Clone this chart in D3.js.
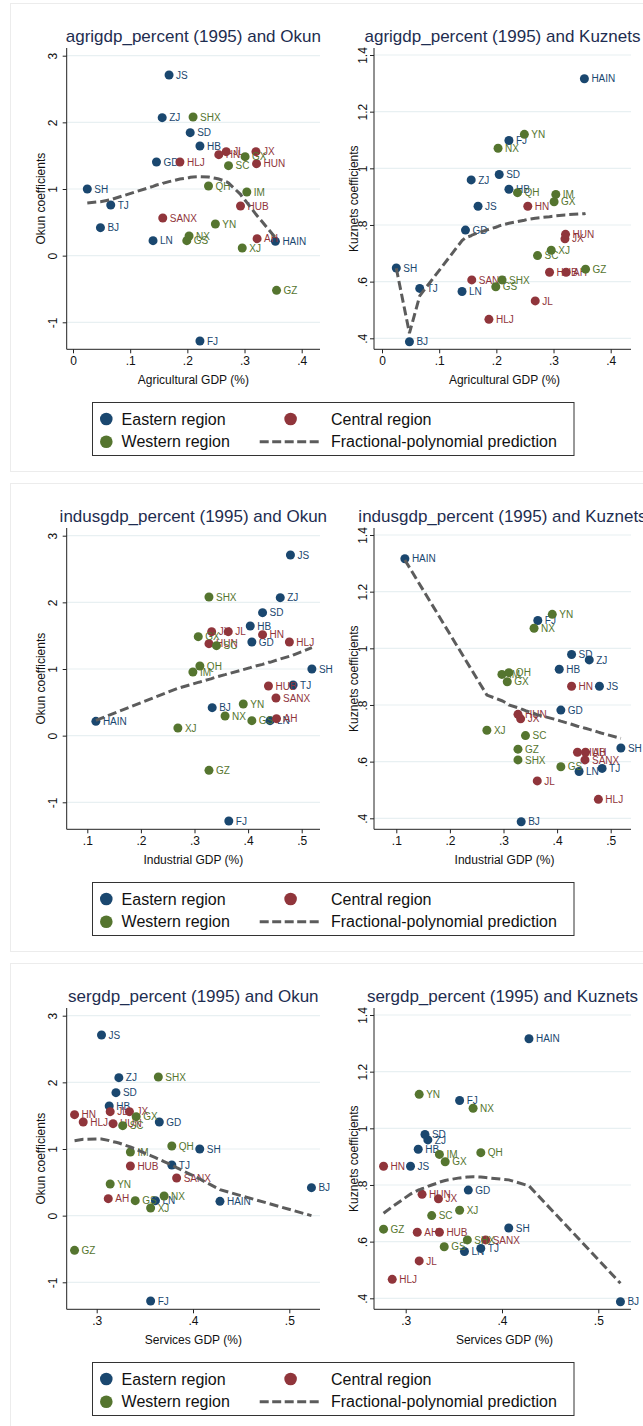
<!DOCTYPE html>
<html>
<head>
<meta charset="utf-8">
<script src="https://cdn.jsdelivr.net/npm/d3@7"></script>
<style>
body { margin: 0; background: #fff; }
svg { display: block; font-family: "Liberation Sans", Arial, sans-serif; }
</style>
</head>
<body>
<div id="chart"></div>
<script>
// provinces, 1995
var provinces = ["BJ","TJ","HB","LN","SH","JS","ZJ","FJ","SD","GD","HAIN",
                 "SANX","JL","HLJ","AH","JX","HN","HUB","HUN",
                 "IM","GX","SC","GZ","YN","SHX","GS","QH","NX","XJ"];
var regions = [0,0,0,0,0,0,0,0,0,0,0, 1,1,1,1,1,1,1,1, 2,2,2,2,2,2,2,2,2,2];

var agriShare  = [0.048,0.066,0.222,0.140,0.025,0.168,0.156,0.222,0.205,0.146,0.354,
                  0.157,0.268,0.187,0.322,0.320,0.255,0.293,0.321,
                  0.304,0.301,0.272,0.356,0.249,0.210,0.199,0.237,0.203,0.296];
var indusShare = [0.333,0.484,0.404,0.441,0.519,0.479,0.460,0.364,0.427,0.407,0.116,
                  0.452,0.363,0.477,0.453,0.332,0.427,0.438,0.327,
                  0.297,0.307,0.341,0.327,0.391,0.327,0.407,0.310,0.357,0.269];
var servShare  = [0.523,0.378,0.313,0.361,0.407,0.305,0.323,0.356,0.320,0.365,0.428,
                  0.383,0.314,0.286,0.312,0.334,0.277,0.335,0.317,
                  0.335,0.341,0.327,0.277,0.314,0.364,0.340,0.378,0.370,0.356];
var okunCoef   = [0.42,0.76,1.645,0.225,1.00,2.71,2.07,-1.28,1.845,1.405,0.215,
                  0.565,1.56,1.405,0.255,1.56,1.515,0.745,1.38,
                  0.955,1.485,1.35,-0.52,0.475,2.08,0.225,1.045,0.295,0.115];
var kuzCoef    = [0.388,0.576,0.926,0.565,0.648,0.866,0.959,1.098,0.978,0.782,1.316,
                  0.606,0.532,0.467,0.633,0.751,0.866,0.633,0.767,
                  0.908,0.882,0.692,0.644,1.12,0.606,0.582,0.914,1.071,0.711];

// fractional-polynomial predictions at each province
var fpAgriOkun  = [0.81,0.84,1.185,1.04,0.79,1.11,1.08,1.185,1.175,1.06,0.27,
                   1.085,1.11,1.15,0.60,0.62,1.15,0.92,0.61,
                   0.80,0.83,1.09,0.24,1.16,1.18,1.165,1.18,1.17,0.88];
var fpAgriKuz   = [0.418,0.55,0.806,0.745,0.647,0.772,0.762,0.806,0.797,0.755,0.84,
                   0.764,0.824,0.785,0.836,0.835,0.82,0.829,0.835,
                   0.832,0.831,0.825,0.841,0.817,0.80,0.792,0.812,0.795,0.830];
var fpIndusOkun = [0.86,1.21,1.02,1.10,1.32,1.19,1.15,0.93,1.07,1.03,0.23,
                   1.13,0.93,1.19,1.13,0.855,1.07,1.10,0.845,
                   0.775,0.80,0.88,0.845,0.99,0.845,1.03,0.805,0.915,0.71];
var fpIndusKuz  = [0.786,0.70,0.745,0.724,0.682,0.703,0.714,0.765,0.732,0.743,1.312,
                   0.718,0.765,0.704,0.718,0.787,0.732,0.725,0.79,
                   0.815,0.805,0.78,0.79,0.752,0.79,0.743,0.80,0.77,0.835];
var fpServOkun  = [0.0,0.76,1.125,0.87,0.55,1.15,1.09,0.90,1.10,0.845,0.39,
                   0.72,1.12,1.145,1.13,1.035,1.125,1.03,1.11,
                   1.03,0.995,1.07,1.125,1.12,0.85,1.00,0.76,0.81,0.90];
var fpServKuz   = [0.453,0.828,0.782,0.827,0.818,0.768,0.795,0.825,0.79,0.828,0.797,
                   0.826,0.783,0.723,0.78,0.808,0.70,0.81,0.787,
                   0.81,0.816,0.80,0.70,0.783,0.828,0.815,0.828,0.829,0.825];

var regionNames = ["Eastern region","Central region","Western region"];
var regionColors = ["#1a476f","#90353b","#55752f"];

var okunTicks = [-1,0,1,2,3];
var kuzTicks = [0.4,0.6,0.8,1,1.2,1.4];
var agriTicks = [0,0.1,0.2,0.3,0.4];
var indusTicks = [0.1,0.2,0.3,0.4,0.5];
var servTicks = [0.3,0.4,0.5];

var rows = [
  {name:"agrigdp_percent", xlab:"Agricultural GDP (%)", xs:agriShare, ticks:agriTicks, fits:[fpAgriOkun, fpAgriKuz], xr:[73,301.7]},
  {name:"indusgdp_percent", xlab:"Industrial GDP (%)", xs:indusShare, ticks:indusTicks, fits:[fpIndusOkun, fpIndusKuz], xr:[87.3,301.7]},
  {name:"sergdp_percent", xlab:"Services GDP (%)", xs:servShare, ticks:servTicks, fits:[fpServOkun, fpServKuz], xr:[96.7,289.3]}
];
var yVars = [
  {name:"Okun", title:"Okun coefficients", ys:okunCoef, ticks:okunTicks, dom:[-1,3], rng:[322.3,55.7]},
  {name:"Kuznets", title:"Kuznets coefficients", ys:kuzCoef, ticks:kuzTicks, dom:[0.4,1.4], rng:[338.3,55]}
];

var width = 643, height = 1426;
var rowStep = 480;
var cols = [
  {axisX:66.7, right:320, shift:0, tickOff:10, titleOff:22},
  {axisX:374, right:631, shift:309, tickOff:7.5, titleOff:16.5}
];
var plotTop = 48, plotBottom = 349.3;

var fmt = function(v) {
  var s = String(+v.toFixed(2));
  return s.replace(/^0\./, ".").replace(/^-0\./, "-.");
};

var svg = d3.select("#chart").append("svg")
    .attr("width", width)
    .attr("height", height);

rows.forEach(function(row, r) {
  var g = svg.append("g").attr("transform", "translate(0," + (r * rowStep) + ")");

  // card
  g.append("rect")
    .attr("x", 10.5).attr("y", 3.5)
    .attr("width", 660).attr("height", 468)
    .attr("fill", "#fff")
    .attr("stroke", "#ececec");

  yVars.forEach(function(yv, c) {
    var col = cols[c];
    var x = d3.scaleLinear().domain([row.ticks[0], row.ticks[row.ticks.length - 1]])
        .range([row.xr[0] + col.shift, row.xr[1] + col.shift]);
    var y = d3.scaleLinear().domain(yv.dom).range(yv.rng);
    var p = g.append("g");

    // grid
    p.selectAll(".grid")
      .data(yv.ticks)
      .enter().append("line")
      .attr("x1", col.axisX).attr("x2", col.right)
      .attr("y1", function(d){ return y(d); })
      .attr("y2", function(d){ return y(d); })
      .attr("stroke", "#e8f0f2")
      .attr("stroke-width", 1.2);

    // axes
    var ya = p.append("g")
      .attr("transform", "translate(" + col.axisX + ",0)")
      .call(d3.axisLeft(y).tickValues(yv.ticks).tickFormat(fmt).tickSize(4).tickSizeOuter(0));
    ya.select(".domain").remove();
    ya.selectAll("text")
      .attr("x", 0).attr("dy", 0)
      .attr("transform", "translate(" + (-col.tickOff) + ",0) rotate(-90)")
      .attr("text-anchor", "middle")
      .style("font-size", "12px")
      .attr("fill", "#111");
    ya.selectAll("line").attr("stroke", "#222");

    var xa = p.append("g")
      .attr("transform", "translate(0," + plotBottom + ")")
      .call(d3.axisBottom(x).tickValues(row.ticks).tickFormat(fmt).tickSize(4).tickPadding(3).tickSizeOuter(0));
    xa.select(".domain").remove();
    xa.selectAll("text").style("font-size", "12px").attr("fill", "#111");
    xa.selectAll("line").attr("stroke", "#222");

    p.append("line")
      .attr("x1", col.axisX).attr("x2", col.axisX)
      .attr("y1", plotTop).attr("y2", plotBottom)
      .attr("stroke", "#222");
    p.append("line")
      .attr("x1", col.axisX).attr("x2", col.right)
      .attr("y1", plotBottom).attr("y2", plotBottom)
      .attr("stroke", "#222");

    // titles
    p.append("text")
      .attr("x", (col.axisX + col.right) / 2).attr("y", 42)
      .attr("text-anchor", "middle")
      .style("font-size", "17px")
      .attr("fill", "#1e2d50")
      .text(row.name + " (1995) and " + yv.name);
    p.append("text")
      .attr("transform", "translate(" + (col.axisX - col.titleOff) + "," + ((plotTop + plotBottom) / 2) + ") rotate(-90)")
      .attr("text-anchor", "middle")
      .style("font-size", "12px")
      .attr("fill", "#111")
      .text(yv.title);
    p.append("text")
      .attr("x", (col.axisX + col.right) / 2 + c * 2).attr("y", 384)
      .attr("text-anchor", "middle")
      .style("font-size", "12px")
      .attr("fill", "#111")
      .text(row.xlab);

    // points, by region
    var idx = d3.range(provinces.length);
    [0,1,2].forEach(function(k) {
      var sub = idx.filter(function(i){ return regions[i] === k; });
      var s = p.append("g");
      s.selectAll("circle")
        .data(sub)
        .enter().append("circle")
        .attr("cx", function(i){ return x(row.xs[i]); })
        .attr("cy", function(i){ return y(yv.ys[i]); })
        .attr("r", 4.5)
        .attr("fill", regionColors[k]);
      s.selectAll("text")
        .data(sub)
        .enter().append("text")
        .attr("x", function(i){ return x(row.xs[i]) + 7; })
        .attr("y", function(i){ return y(yv.ys[i]); })
        .attr("dy", "0.36em")
        .style("font-size", "10px")
        .attr("fill", regionColors[k])
        .text(function(i){ return provinces[i]; });
    });

    // fit line
    var fit = row.fits[c];
    var order = idx.slice().sort(function(a, b){ return row.xs[a] - row.xs[b]; });
    var line = d3.line()
      .x(function(i){ return x(row.xs[i]); })
      .y(function(i){ return y(fit[i]); });
    p.append("path")
      .datum(order)
      .attr("d", line)
      .attr("fill", "none")
      .attr("stroke", "#5c5c5c")
      .attr("stroke-width", 3)
      .attr("stroke-dasharray", "9,4");
  });

  // legend
  var lg = g.append("g");
  lg.append("rect")
    .attr("x", 92.5).attr("y", 402.5)
    .attr("width", 481.5).attr("height", 53)
    .attr("fill", "#fff")
    .attr("stroke", "#333");
  var items = [
    {label:regionNames[0], mx:106.3, tx:121.6, y:419, k:0},
    {label:regionNames[1], mx:290.6, tx:331, y:419, k:1},
    {label:regionNames[2], mx:106.3, tx:121.6, y:441.7, k:2},
    {label:"Fractional-polynomial prediction", mx:290, tx:331, y:441.7, k:-1}
  ];
  items.forEach(function(it) {
    if (it.k >= 0) {
      lg.append("circle")
        .attr("cx", it.mx).attr("cy", it.y)
        .attr("r", 6.3)
        .attr("fill", regionColors[it.k]);
    } else {
      lg.append("line")
        .attr("x1", 259.7).attr("x2", 319.5)
        .attr("y1", it.y).attr("y2", it.y)
        .attr("stroke", "#5c5c5c")
        .attr("stroke-width", 3)
        .attr("stroke-dasharray", "9,3.5");
    }
    lg.append("text")
      .attr("x", it.tx)
      .attr("y", it.y)
      .attr("dy", "0.36em")
      .style("font-size", "16px")
      .attr("fill", "#111")
      .text(it.label);
  });
});
</script>
</body>
</html>
